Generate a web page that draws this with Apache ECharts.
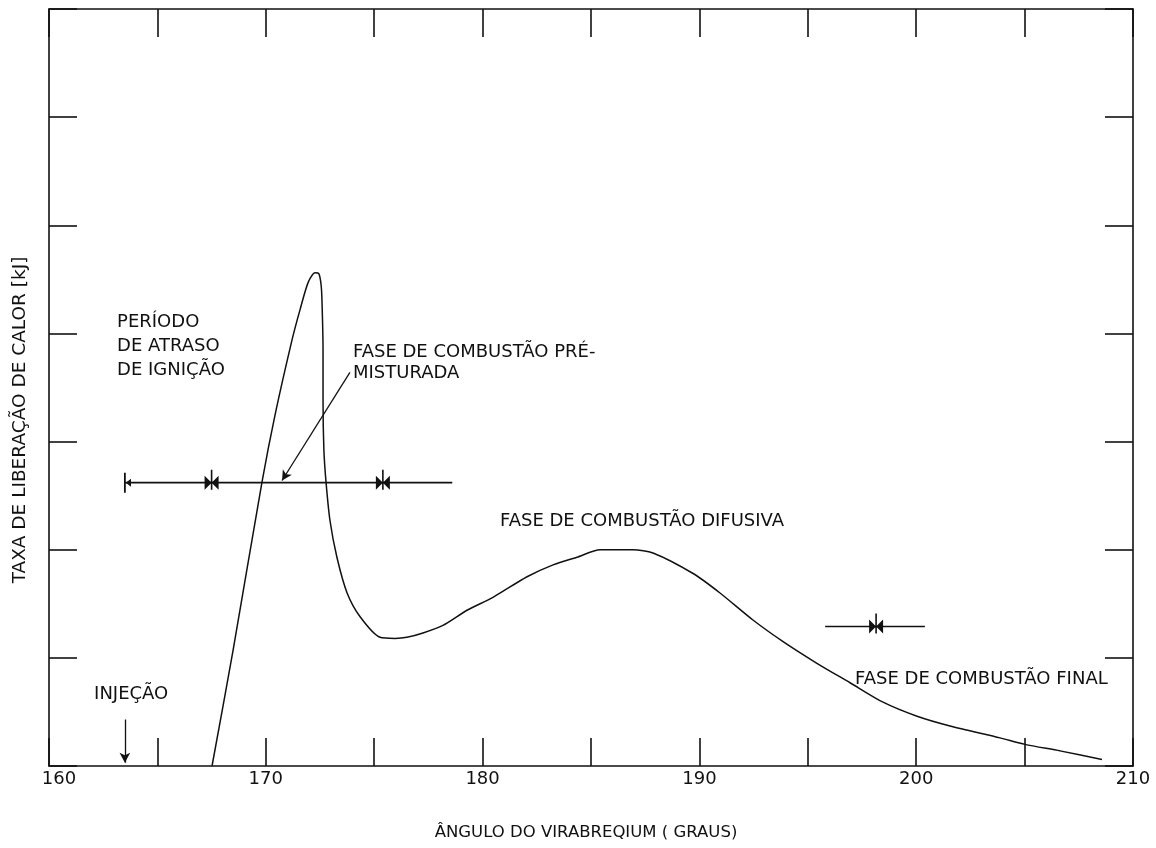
<!DOCTYPE html>
<html>
<head>
<meta charset="utf-8">
<title>Taxa de liberação de calor</title>
<script src="https://cdn.jsdelivr.net/npm/echarts@6/dist/echarts.min.js"></script>
<style>
  html, body { margin: 0; padding: 0; background: #ffffff; }
  #chart { width: 1156px; height: 848px; }
</style>
</head>
<body>
<div id="chart"></div>
<script>
// Crank angle (degrees) and heat release rate (axis units 0..7)
const angle = [
  167.52, 168.49, 169.82, 170.42, 171.21, 171.58, 171.95, 172.27, 172.45, 172.55,
  172.59, 172.64, 172.64, 172.68, 172.78, 172.96, 173.28, 173.75, 174.35, 175.27,
  175.96, 176.51, 177.25, 178.17, 179.28, 180.48, 182.05, 183.25, 184.35, 185.42,
  186.94, 187.86, 189.71, 190.95, 192.47, 193.86, 195.42, 196.95, 198.47, 200.04,
  201.56, 203.87, 205.02, 206.63, 208.57
];
const heatRate = [
  0.00, 1.07, 2.62, 3.24, 3.94, 4.22, 4.47, 4.56, 4.55, 4.45,
  4.31, 3.85, 3.38, 2.92, 2.62, 2.27, 1.93, 1.60, 1.38, 1.19,
  1.18, 1.19, 1.23, 1.30, 1.44, 1.56, 1.75, 1.86, 1.93, 2.00,
  2.00, 1.97, 1.78, 1.60, 1.35, 1.15, 0.95, 0.77, 0.59, 0.46,
  0.37, 0.26, 0.20, 0.14, 0.06
];

// Phase span bars: [start, end] angle and level
const mainSpan = [163.5, 178.6];
const mainSpanLevel = 2.62;
const mainSpanMarks = [167.5, 175.4];
const finalSpan = [195.8, 200.4];
const finalSpanLevel = 1.29;
const finalSpanMarks = [198.15];

// Arrows: [fromX, fromY, toX, toY]
const premixArrow = [173.88, 3.64, 170.75, 2.64];
const injectionArrow = [163.5, 0.43, 163.5, 0.03];

// Annotation texts anchored at [angle, level]
const notes = [
  [163.14, 3.88, 'PERÍODO\nDE ATRASO\nDE IGNIÇÃO', 24],
  [174.02, 3.73, 'FASE DE COMBUSTÃO PRÉ-\nMISTURADA', 21],
  [180.80, 2.26, 'FASE DE COMBUSTÃO DIFUSIVA', 20],
  [197.18, 0.80, 'FASE DE COMBUSTÃO FINAL', 20],
  [162.08, 0.66, 'INJEÇÃO', 20]
];

const xTitle = 'ÂNGULO DO VIRABREQIUM ( GRAUS)';
const yTitle = 'TAXA DE LIBERAÇÃO DE CALOR [kJ]';

const ink = '#111111';
const font = 'DejaVu Sans';

// bow-tie marker: two inward triangles with a stem
const bowTie = 'path://M6.2 0 L7.8 0 L7.8 20 L6.2 20 Z M0 6 L7 13 L0 20 Z M14 6 L7 13 L14 20 Z';
// span start: bar with a small left-pointing head
const spanStart = 'path://M0 0 L1.8 0 L1.8 20 L0 20 Z M1.8 10 L7 6 L7 14 Z';

const curve = angle.map((a, i) => [a, heatRate[i]]);

const chart = echarts.init(document.getElementById('chart'), null, { renderer: 'canvas' });

const frameAxis = {
  axisLine: { show: true, onZero: false, lineStyle: { color: ink, width: 1.6 } },
  axisTick: { show: true, inside: true, length: 28, lineStyle: { color: ink, width: 1.6 } },
  splitLine: { show: false }
};

chart.setOption({
  backgroundColor: '#ffffff',
  animation: false,
  grid: { left: 49, top: 9, right: 23, bottom: 82, containLabel: false },
  xAxis: [
    Object.assign({
      type: 'value', min: 160, max: 210, interval: 5, position: 'bottom',
      axisLabel: {
        show: true, margin: 4, color: ink, fontFamily: font, fontSize: 18,
        formatter: v => (v === 160 ? '{first|160}' : (v % 10 === 0 ? String(v) : '')),
        rich: { first: { padding: [0, 0, 0, 20], color: ink, fontFamily: font, fontSize: 18 } }
      }
    }, frameAxis),
    Object.assign({
      type: 'value', min: 160, max: 210, interval: 5, position: 'top',
      axisLabel: { show: false }
    }, frameAxis)
  ],
  yAxis: [
    Object.assign({
      type: 'value', min: 0, max: 7, interval: 1, position: 'left',
      axisLabel: { show: false }
    }, frameAxis),
    Object.assign({
      type: 'value', min: 0, max: 7, interval: 1, position: 'right',
      axisLabel: { show: false }
    }, frameAxis)
  ],
  graphic: [
    {
      type: 'text', x: 586, y: 833,
      style: { text: xTitle, fill: ink, font: '16.5px "DejaVu Sans"', align: 'center', verticalAlign: 'middle' }
    },
    {
      type: 'text', x: 20, y: 420, rotation: Math.PI / 2,
      style: { text: yTitle, fill: ink, font: '18.5px "DejaVu Sans"', align: 'center', verticalAlign: 'middle' }
    }
  ],
  series: [
    {
      name: 'Taxa de liberação de calor',
      type: 'line',
      data: curve,
      showSymbol: false,
      smooth: 0.25,
      lineStyle: { color: ink, width: 1.5 },
      z: 3
    },
    {
      name: 'Período principal',
      type: 'line',
      data: [[mainSpan[0], mainSpanLevel], [mainSpan[1], mainSpanLevel]],
      showSymbol: false,
      lineStyle: { color: ink, width: 1.6 },
      markLine: {
        silent: true,
        symbol: ['none', 'arrow'],
        symbolSize: [8, 10],
        label: { show: false },
        lineStyle: { color: ink, width: 1.3, type: 'solid' },
        data: [
          [{ coord: [premixArrow[0], premixArrow[1]] }, { coord: [premixArrow[2], premixArrow[3]] }],
          [{ coord: [injectionArrow[0], injectionArrow[1]] }, { coord: [injectionArrow[2], injectionArrow[3]] }]
        ]
      }
    },
    {
      name: 'Fase final',
      type: 'line',
      data: [[finalSpan[0], finalSpanLevel], [finalSpan[1], finalSpanLevel]],
      showSymbol: false,
      lineStyle: { color: ink, width: 1.6 }
    },
    {
      name: 'Marcas',
      type: 'scatter',
      symbol: bowTie,
      symbolSize: [14, 20],
      symbolOffset: [0, -3],
      itemStyle: { color: ink, opacity: 1 },
      data: mainSpanMarks.map(a => [a, mainSpanLevel]).concat(finalSpanMarks.map(a => [a, finalSpanLevel])),
      z: 4
    },
    {
      name: 'Início',
      type: 'scatter',
      symbol: spanStart,
      symbolSize: [7, 20],
      symbolOffset: [2.6, 0],
      itemStyle: { color: ink, opacity: 1 },
      data: [[mainSpan[0], mainSpanLevel]],
      z: 4
    },
    {
      name: 'Notas',
      type: 'scatter',
      symbolSize: 0,
      silent: true,
      itemStyle: { opacity: 1 },
      data: notes.map(n => ({
        value: [n[0], n[1]],
        label: {
          show: true, position: 'right', distance: 0,
          formatter: n[2], lineHeight: n[3],
          color: ink, fontFamily: font, fontSize: 18, align: 'left', verticalAlign: 'middle'
        }
      })),
      z: 5
    }
  ]
});
</script>
</body>
</html>
